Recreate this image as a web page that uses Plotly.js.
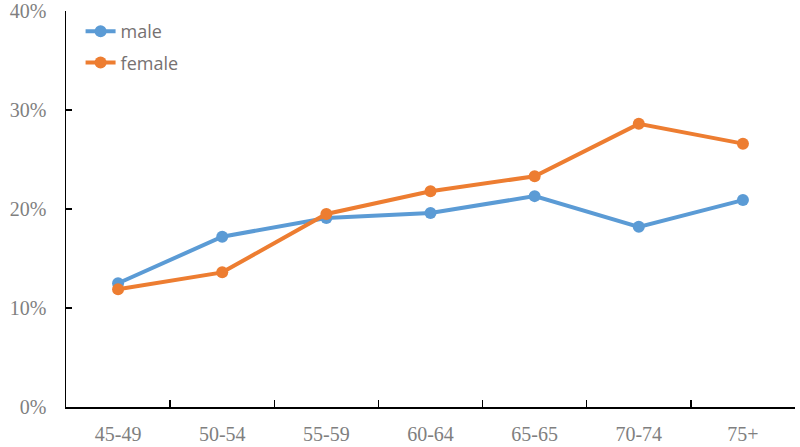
<!DOCTYPE html>
<html>
<head>
<meta charset="utf-8">
<script src="https://cdn.plot.ly/plotly-3.0.1.min.js"></script>
<style>html,body{margin:0;padding:0;background:#fff;}#chart{width:800px;height:447px;}</style>
</head>
<body>
<div id="chart"></div>
<script>
const categories = ["45-49", "50-54", "55-59", "60-64", "65-65", "70-74", "75+"];
const maleValues = [0.125, 0.172, 0.191, 0.196, 0.213, 0.182, 0.209];
const femaleValues = [0.119, 0.136, 0.195, 0.218, 0.233, 0.286, 0.266];
const seriesNames = ["male", "female"];
const yTickValues = [0, 0.1, 0.2, 0.3, 0.4];
const yTickLabels = ["0%", "10%", "20%", "30%", "40%"];

const traces = [
  {x: categories, y: maleValues, name: seriesNames[0], legendgroup: "m", type: "scatter", mode: "lines+markers",
   line: {color: "#5B9BD5", width: 4}, marker: {color: "#5B9BD5", size: 12}},
  {x: categories, y: femaleValues, name: seriesNames[1], legendgroup: "f", type: "scatter", mode: "lines+markers",
   line: {color: "#ED7D31", width: 4}, marker: {color: "#ED7D31", size: 12}}
];

const layout = {
  width: 800, height: 447,
  margin: {l: 66, r: 5, t: 11, b: 40},
  paper_bgcolor: "#fff", plot_bgcolor: "#fff",
  showlegend: true,
  legend: {x: 0.02, y: 0.995, xanchor: "left", yanchor: "top", traceorder: "grouped",
    font: {family: "Open Sans, Liberation Sans, sans-serif", size: 18, color: "#767171"},
    bgcolor: "rgba(0,0,0,0)", itemwidth: 30, tracegroupgap: 5},
  xaxis: {type: "category", range: [-0.5, 6.5], showline: true, linecolor: "#000", linewidth: 1.5,
    ticks: "inside", tickson: "boundaries", ticklen: 7, tickcolor: "#000", tickwidth: 1.5,
    showgrid: false, zeroline: false, ticklabelstandoff: 8, ticklabeloverflow: "allow",
    tickfont: {family: "Liberation Serif, Times New Roman, serif", size: 20, color: "#7f7f7f"}},
  yaxis: {range: [0, 0.4], tickmode: "array", tickvals: yTickValues, ticktext: yTickLabels,
    showline: true, linecolor: "#000", linewidth: 1.5, ticklabeloverflow: "allow",
    ticks: "inside", ticklen: 6, tickcolor: "#000", tickwidth: 1.5, showgrid: false, zeroline: false,
    ticklabelstandoff: 14,
    tickfont: {family: "Liberation Serif, Times New Roman, serif", size: 20, color: "#7f7f7f"}}
};

Plotly.newPlot("chart", traces, layout, {displayModeBar: false, staticPlot: true});
</script>
</body>
</html>
